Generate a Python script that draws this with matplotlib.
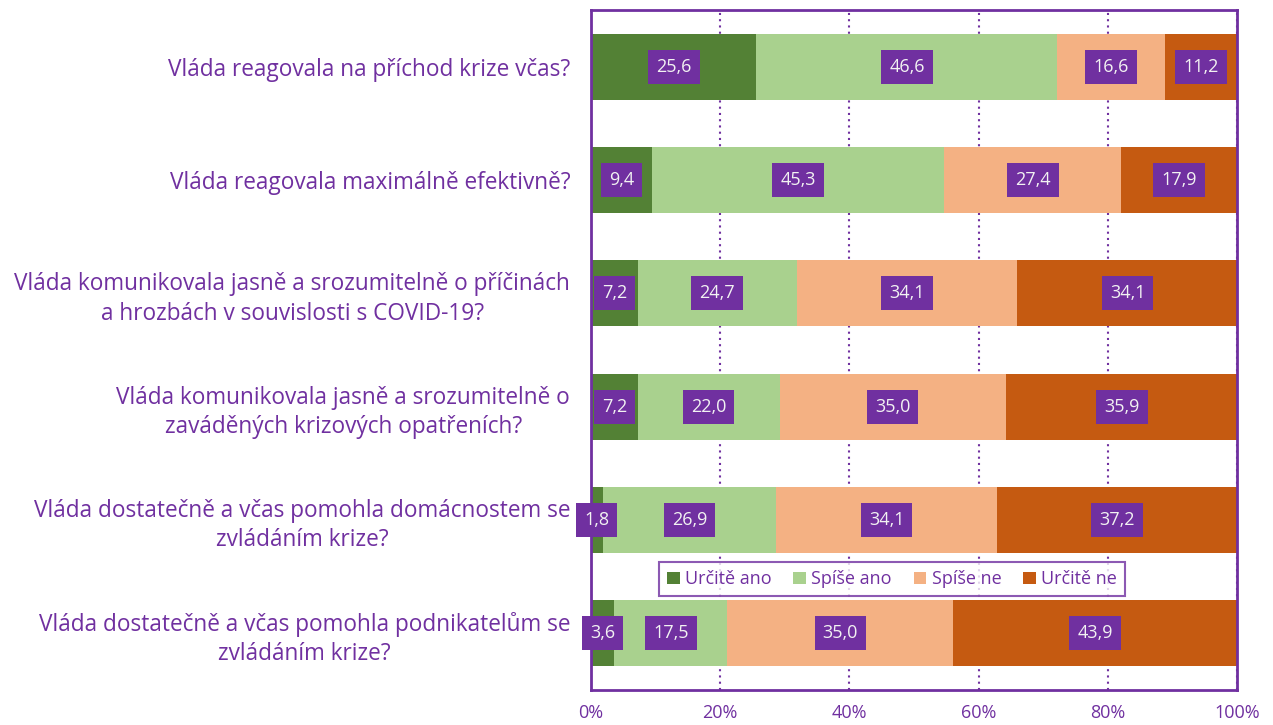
import matplotlib.pyplot as plt
import numpy as np

questions = [
    "Vláda reagovala na příchod krize včas?",
    "Vláda reagovala maximálně efektivně?",
    "Vláda komunikovala jasně a srozumitelně o příčinách\na hrozbách v souvislosti s COVID-19?",
    "Vláda komunikovala jasně a srozumitelně o\nzaváděných krizových opatřeních?",
    "Vláda dostatečně a včas pomohla domácnostem se\nzvládáním krize?",
    "Vláda dostatečně a včas pomohla podnikatelům se\nzvládáním krize?",
]
series = ["Určitě ano", "Spíše ano", "Spíše ne", "Určitě ne"]
urcite_ano = [25.6, 9.4, 7.2, 7.2, 1.8, 3.6]
spise_ano = [46.6, 45.3, 24.7, 22.0, 26.9, 17.5]
spise_ne = [16.6, 27.4, 34.1, 35.0, 34.1, 35.0]
urcite_ne = [11.2, 17.9, 34.1, 35.9, 37.2, 43.9]
colors = ["#538135", "#A9D18E", "#F4B183", "#C55A11"]
purple = "#7030A0"

plt.rcParams['font.family'] = ['Open Sans', 'DejaVu Sans']

fig = plt.figure(figsize=(12.73, 7.25), dpi=100)
ax = fig.add_axes([591 / 1273, 35 / 725, 646 / 1273, 680 / 725])

y = np.arange(len(questions))
values = [urcite_ano, spise_ano, spise_ne, urcite_ne]
left = np.zeros(len(questions))
for name, vals, col in zip(series, values, colors):
    vals = np.array(vals)
    ax.barh(y, vals, left=left, height=0.58, color=col, label=name, zorder=2)
    for yi, (l, v) in enumerate(zip(left, vals)):
        ax.text(l + v / 2, yi, f"{v:.1f}".replace(".", ","), ha="center", va="center",
                fontsize=13, color="#F2F2F2", zorder=4,
                bbox=dict(boxstyle="square,pad=0.45", fc=purple, ec="none"))
    left = left + vals

ax.set_xlim(0, 100)
ax.set_ylim(5.5, -0.5)
ax.set_yticks(y)
ax.set_yticklabels(questions, fontsize=16.3, color=purple, multialignment="center",
                   linespacing=1.3)
ax.set_xticks([0, 20, 40, 60, 80, 100])
ax.set_xticklabels(["0%", "20%", "40%", "60%", "80%", "100%"], fontsize=13, color=purple)
ax.tick_params(axis="both", length=0)
ax.tick_params(axis="x", pad=10)
ax.tick_params(axis="y", pad=15)
ax.xaxis.grid(True, linestyle=(0, (1, 2)), color=purple, linewidth=1.5, zorder=1)
ax.set_axisbelow(True)
for s in ax.spines.values():
    s.set_color(purple)
    s.set_linewidth(2)

leg = ax.legend(loc="center", bbox_to_anchor=(0.466, 0.163), ncol=4, fontsize=13,
                frameon=True, fancybox=False, handlelength=0.7, handleheight=0.7,
                handletextpad=0.3, columnspacing=1.2, borderpad=0.45, borderaxespad=0)
leg.get_frame().set_edgecolor(purple)
leg.get_frame().set_linewidth(1.5)
for t in leg.get_texts():
    t.set_color(purple)

fig.savefig("out.png", dpi=100)
